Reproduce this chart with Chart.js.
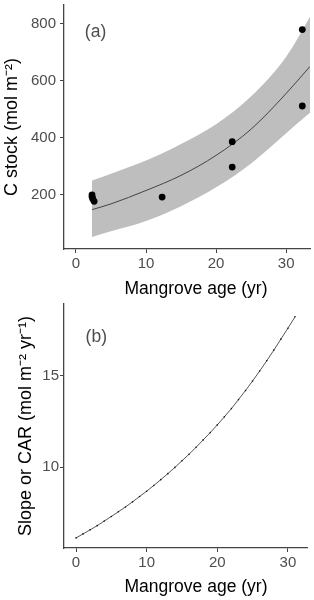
<!DOCTYPE html>
<html>
<head>
<meta charset="utf-8">
<script src="https://cdn.jsdelivr.net/npm/chart.js@4.4.0/dist/chart.umd.min.js"></script>
<style>
  body { margin: 0; background: #fff; }
  .panel { position: absolute; left: 0; width: 314px; height: 300px; }
</style>
</head>
<body>
<div class="panel" style="top:0"><canvas id="stockChart" width="314" height="300"></canvas></div>
<div class="panel" style="top:300px"><canvas id="carChart" width="314" height="300"></canvas></div>
<script>
// Tick labels
const ageTicks = [0, 10, 20, 30];
const stockTicks = [200, 400, 600, 800];
const carTicks = [10, 15];

// Panel (a): observed C stock
const obsAge = [2.3, 2.3, 2.4, 2.6, 12.3, 22.3, 22.3, 32.3, 32.3];
const obsStock = [200, 193, 186, 177, 192, 386, 297, 779, 511];

// Panel (a): fitted curve and its confidence band
const fitAge = [2.3, 5, 10, 15, 20, 25, 30, 33.4];
const fitStock = [148, 168, 215, 268, 338, 430, 555, 650];
const fitUpper = [250, 274, 320, 378, 447, 545, 684, 823];
const fitLower = [52, 72, 108, 160, 226, 310, 416, 487];

// Panel (b): slope / CAR at each year
const carAge = [0, 1, 2, 3, 4, 5, 6, 7, 8, 9, 10, 11, 12, 13, 14, 15,
  16, 17, 18, 19, 20, 21, 22, 23, 24, 25, 26, 27, 28, 29, 30, 31];
const carValue = [6.13, 6.35, 6.57, 6.80, 7.05, 7.30, 7.56, 7.82, 8.10, 8.39, 8.68,
  8.99, 9.31, 9.64, 9.98, 10.34, 10.70, 11.08, 11.48, 11.88, 12.30, 12.74, 13.19,
  13.68, 14.18, 14.70, 15.24, 15.80, 16.38, 16.98, 17.58, 18.20];

const FONT = 'Liberation Sans, Arial, sans-serif';
const TICK_COLOR = '#4d4d4d';
const AXIS_COLOR = '#444';

const toXY = (xs, ys) => xs.map((x, i) => ({ x: x, y: ys[i] }));

// panel letter at a data position, x-axis title a bit right of the panel centre (as in the original)
function panelText(letter, xv, yv, titleBaseline) {
  return {
    id: 'panelText',
    afterDraw(chart) {
      const ctx = chart.ctx;
      ctx.save();
      ctx.textAlign = 'center';
      ctx.font = '17.5px ' + FONT;
      ctx.fillStyle = TICK_COLOR;
      ctx.textBaseline = 'middle';
      ctx.fillText(letter, chart.scales.x.getPixelForValue(xv), chart.scales.y.getPixelForValue(yv));
      ctx.fillStyle = '#000';
      ctx.textBaseline = 'alphabetic';
      ctx.fillText('Mangrove age (yr)', 196, titleBaseline);
      ctx.restore();
    }
  };
}

function axisOptions(opts) {
  return {
    x: {
      type: 'linear',
      min: opts.xMin, max: opts.xMax,
      afterBuildTicks: s => { s.ticks = ageTicks.map(v => ({ value: v })); },
      afterFit: s => { s.height = opts.xHeight; s.paddingLeft = 0; s.paddingRight = 0; },
      grid: { drawOnChartArea: false, drawTicks: true, tickLength: 4, color: AXIS_COLOR },
      border: { color: AXIS_COLOR, width: 1.3 },
      ticks: { color: TICK_COLOR, font: { family: FONT, size: 15 }, padding: 2, maxRotation: 0 }
    },
    y: {
      type: 'linear',
      min: opts.yMin, max: opts.yMax,
      afterBuildTicks: s => { s.ticks = opts.yTicks.map(v => ({ value: v })); },
      afterFit: s => { s.width = 64; s.paddingTop = 0; s.paddingBottom = 0; },
      grid: { drawOnChartArea: false, drawTicks: true, tickLength: 4, color: AXIS_COLOR },
      border: { color: AXIS_COLOR, width: 1.3 },
      ticks: { color: TICK_COLOR, font: { family: FONT, size: 15 }, padding: opts.yTickPad },
      title: { display: true, text: opts.yTitle, color: '#000',
               font: { family: FONT, size: 18 }, padding: { top: opts.yTitlePad, bottom: 0 } }
    }
  };
}

new Chart(document.getElementById('stockChart').getContext('2d'), {
  type: 'scatter',
  data: {
    datasets: [
      { data: toXY(obsAge, obsStock), backgroundColor: '#000', borderColor: '#000',
        pointRadius: 3.4, pointBorderWidth: 0, order: 0 },
      { type: 'line', data: toXY(fitAge, fitStock), borderColor: '#444', borderWidth: 1,
        pointRadius: 0, cubicInterpolationMode: 'monotone', fill: false, order: 1 },
      { type: 'line', data: toXY(fitAge, fitLower), borderWidth: 0, pointRadius: 0,
        cubicInterpolationMode: 'monotone', fill: false, order: 2 },
      { type: 'line', data: toXY(fitAge, fitUpper), borderWidth: 0, pointRadius: 0,
        cubicInterpolationMode: 'monotone', fill: '-1', backgroundColor: 'rgb(190,190,190)', order: 3 }
    ]
  },
  options: {
    responsive: false,
    animation: false,
    layout: { padding: { left: 0, right: 4, top: 5, bottom: 0 } },
    plugins: { legend: { display: false }, tooltip: { enabled: false } },
    scales: axisOptions({
      xMin: -1.7, xMax: 33.4, yMin: 10, yMax: 865, yTicks: stockTicks, xHeight: 51,
      yTickPad: 4, yTitlePad: 1.5, yTitle: 'C stock (mol m\u207B\u00B2)'
    })
  },
  plugins: [panelText('(a)', 2.8, 770, 293.5)]
});

new Chart(document.getElementById('carChart').getContext('2d'), {
  type: 'line',
  data: {
    datasets: [
      { data: toXY(carAge, carValue), borderColor: '#555', borderWidth: 1,
        pointRadius: 0.8, pointBackgroundColor: '#111', pointBorderWidth: 0,
        cubicInterpolationMode: 'monotone', fill: false }
    ]
  },
  options: {
    responsive: false,
    animation: false,
    layout: { padding: { left: 0, right: 7, top: 3, bottom: 0 } },
    plugins: { legend: { display: false }, tooltip: { enabled: false } },
    scales: axisOptions({
      xMin: -1.7, xMax: 32.7, yMin: 5.58, yMax: 18.9, yTicks: carTicks, xHeight: 52,
      yTickPad: 1, yTitlePad: 15, yTitle: 'Slope or CAR (mol m\u207B\u00B2 yr\u207B\u00B9)'
    })
  },
  plugins: [panelText('(b)', 2.87, 17.09, 292)]
});
</script>
</body>
</html>
